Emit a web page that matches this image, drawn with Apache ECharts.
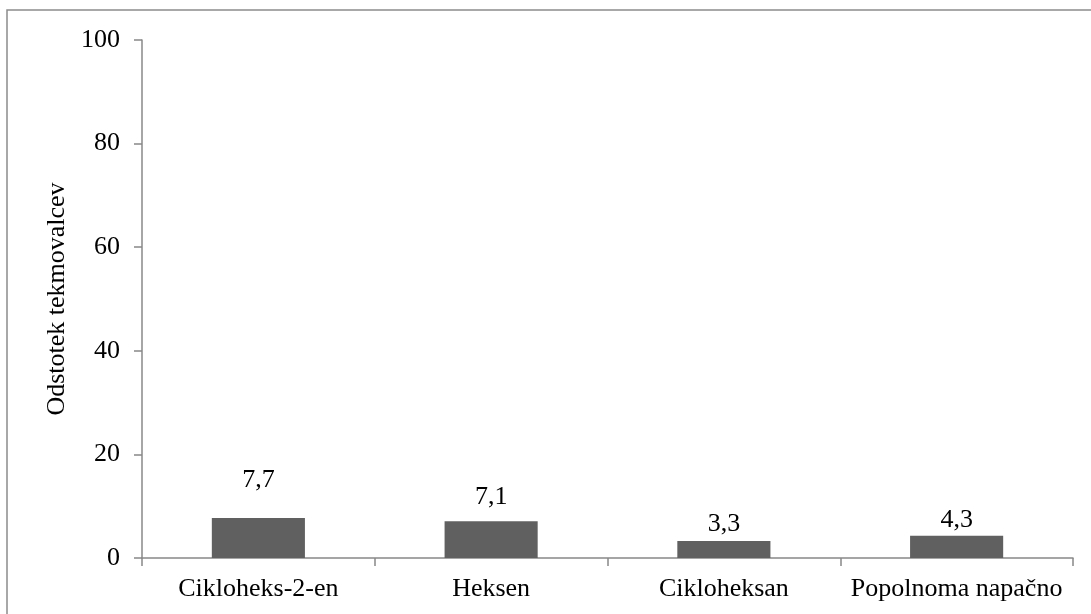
<!DOCTYPE html>
<html>
<head>
<meta charset="utf-8">
<style>
  html, body { margin: 0; padding: 0; background: #fff; }
  #chart { width: 1091px; height: 614px; }
</style>
<script src="https://cdn.jsdelivr.net/npm/echarts@6/dist/echarts.min.js"></script>
</head>
<body>
<div id="chart"></div>
<script>
// Share of competitors per answer
const categories = ['Cikloheks-2-en', 'Heksen', 'Cikloheksan', 'Popolnoma napačno'];
const values = [7.7, 7.1, 3.3, 4.3];
const yTicks = [0, 20, 40, 60, 80, 100];
const yTitle = 'Odstotek tekmovalcev';

const FONT = '"Liberation Serif", "Times New Roman", serif';
const AXIS_GRAY = '#888888';
// label lift above each bar
const labelDistance = [25, 11, 4, 3];

const chart = echarts.init(document.getElementById('chart'), null, { renderer: 'canvas' });

chart.setOption({
  animation: false,
  backgroundColor: '#ffffff',
  graphic: [{
    type: 'rect',
    shape: { x: 7, y: 10, width: 1100, height: 640 },
    style: { fill: 'none', stroke: '#8c8c8c', lineWidth: 1.5 },
    silent: true
  }],
  grid: { left: 142, right: 18, top: 40, bottom: 56 },
  xAxis: {
    type: 'category',
    data: categories,
    axisLine: { show: true, lineStyle: { color: AXIS_GRAY, width: 1.5 } },
    axisTick: { show: true, length: 8, alignWithLabel: false, lineStyle: { color: AXIS_GRAY, width: 1.5 } },
    axisLabel: { interval: 0, color: '#000', fontFamily: FONT, fontSize: 26, margin: 18 },
    splitLine: { show: false }
  },
  yAxis: {
    type: 'value',
    min: yTicks[0],
    max: yTicks[yTicks.length - 1],
    interval: yTicks[1] - yTicks[0],
    name: yTitle,
    nameLocation: 'middle',
    nameGap: 72,
    nameRotate: 90,
    nameTextStyle: { color: '#000', fontFamily: FONT, fontSize: 26 },
    axisLine: { show: true, lineStyle: { color: AXIS_GRAY, width: 1.5 } },
    axisTick: { show: true, length: 8, lineStyle: { color: AXIS_GRAY, width: 1.5 } },
    axisLabel: { color: '#000', fontFamily: FONT, fontSize: 26, margin: 22 },
    splitLine: { show: false }
  },
  series: [{
    type: 'bar',
    data: values.map((v, i) => ({
      value: v,
      label: { distance: labelDistance[i] }
    })),
    barCategoryGap: '60%',
    itemStyle: { color: '#606060' },
    label: {
      show: true,
      position: 'top',
      color: '#000',
      fontFamily: FONT,
      fontSize: 26,
      formatter: p => String(p.value).replace('.', ',')
    }
  }]
});
</script>
</body>
</html>
